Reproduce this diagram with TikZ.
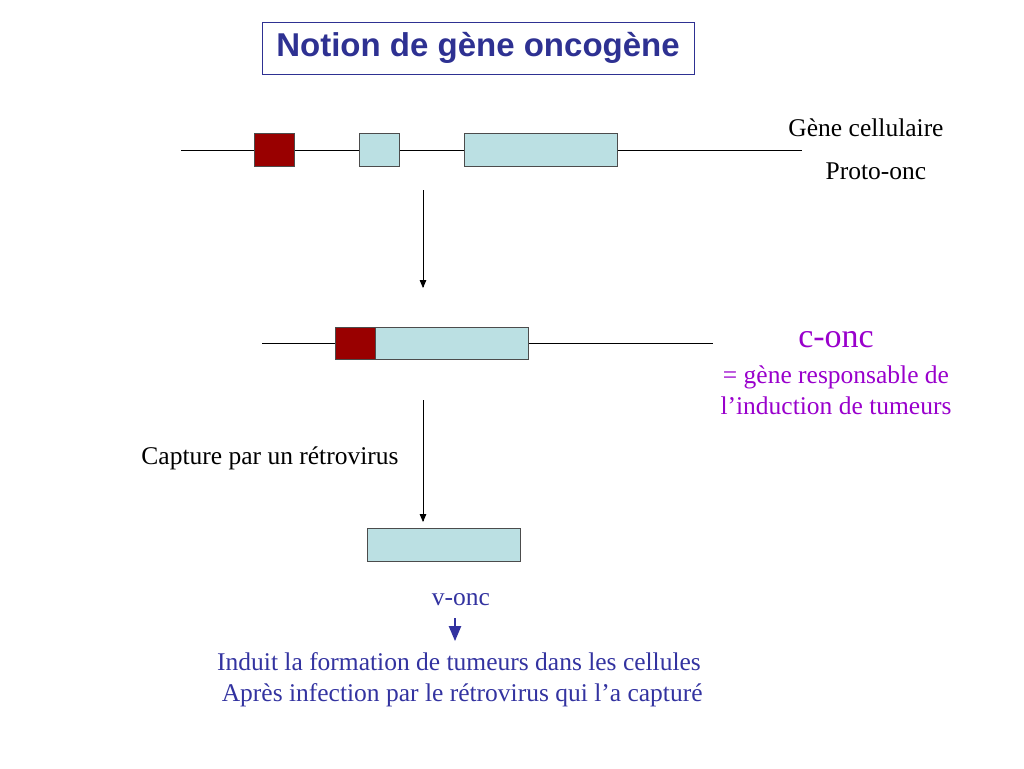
\documentclass[tikz,border=0pt]{standalone}
\usepackage{fontspec}
\setmainfont{Liberation Serif}
\setsansfont{Liberation Sans}
\usetikzlibrary{arrows}
\definecolor{exonred}{HTML}{990000}
\definecolor{exonblue}{HTML}{BBE0E3}
\definecolor{titleblue}{HTML}{2E3192}
\definecolor{txtblue}{HTML}{3333A0}
\definecolor{txtpurple}{HTML}{9900CC}
\tikzset{
  redexon/.style={draw=black!70,fill=exonred},
  blueexon/.style={draw=black!70,fill=exonblue},
  txt/.style={font=\fontsize{25.5}{31}\selectfont},
  step arrow/.style={-triangle 45,line width=0.8pt}
}
\begin{document}
\begin{tikzpicture}[x=1pt,y=-1pt]
      \useasboundingbox (0,0) rectangle (1024,768);
      \node[draw=titleblue,minimum width=432pt,minimum height=52pt,text=titleblue,
            font=\sffamily\bfseries\fontsize{33}{36}\selectfont] (title) at (478,48) {Notion de gène oncogène};
      % gene cellulaire
      \coordinate (l1a) at (181,150);
      \coordinate (l1b) at (802,150);
      \draw (l1a) -- (l1b);
      \filldraw[redexon] (254,133) rectangle (294,166);
      \filldraw[blueexon] (359,133) rectangle (399,166);
      \filldraw[blueexon] (464,133) rectangle (617,166);
      \node[txt] (gene) at (866,128) {Gène cellulaire};
      \node[txt] (proto) at (876,171) {Proto-onc};
      \coordinate (a1) at (423,190);
      \coordinate (a2) at (423,288);
      \draw[step arrow] (a1) -- (a2);
      % c-onc
      \coordinate (l2a) at (262,343);
      \coordinate (l2b) at (713,343);
      \draw (l2a) -- (l2b);
      \filldraw[redexon] (335,327) rectangle (375,359);
      \filldraw[blueexon] (375,327) rectangle (528,359);
      \node[text=txtpurple,font=\fontsize{34}{38}\selectfont] (conc) at (836,340) {c-onc};
      \node[txt,text=txtpurple,align=center] (cdef) at (836,390) {= gène responsable de\\l’induction de tumeurs};
      \coordinate (b1) at (423,400);
      \coordinate (b2) at (423,522);
      \draw[step arrow] (b1) -- (b2);
      \node[txt] (capt) at (270,458) {Capture par un rétrovirus};
      % v-onc
      \node[blueexon,minimum width=153pt,minimum height=33pt,inner sep=0pt] (vbox) at (443.5,544.5) {};
      \node[txt,text=txtblue] (vonc) at (461,600) {v-onc};
      \coordinate (c1) at (455,618);
      \coordinate (c2) at (455,641);
      \draw[-triangle 45,line width=2.5pt,txtblue] (c1) -- (c2);
      \node[txt,text=txtblue,align=center] (induit) at (459,680) {Induit la formation de tumeurs dans les cellules\\\ Après infection par le rétrovirus qui l’a capturé};
\end{tikzpicture}
\end{document}
